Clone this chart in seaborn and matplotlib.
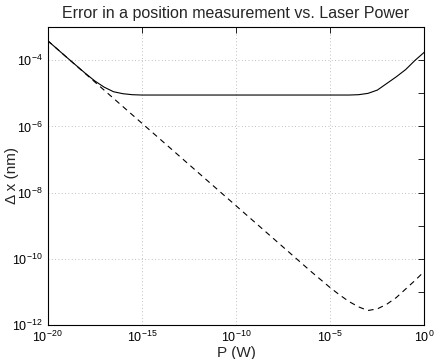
import numpy as np
import pandas as pd
import seaborn as sns
import matplotlib
matplotlib.use("Agg")
import matplotlib.pyplot as plt

# log10 of laser power (W) and log10 of position error (nm)
log_p_total = [-20, -19, -18, -17.5, -17, -16.5, -16, -15.5, -15, -14, -12, -10,
               -8, -6, -4, -3.5, -3, -2.5, -2, -1.5, -1, -0.5, 0]
log_dx_total = [-3.40, -3.90, -4.39, -4.62, -4.81, -4.95, -5.01, -5.04, -5.05, -5.05,
                -5.05, -5.05, -5.05, -5.05, -5.05, -5.04, -5.00, -4.90, -4.70, -4.50,
                -4.28, -4.00, -3.75]

log_p_shot = [-20, -18, -16, -14, -12, -10, -8, -6, -5, -4.5, -4, -3.5, -3,
              -2.5, -2, -1.5, -1, -0.5, 0]
log_dx_shot = [-3.40, -4.40, -5.40, -6.40, -7.40, -8.40, -9.40, -10.40, -10.88,
               -11.10, -11.30, -11.46, -11.57, -11.52, -11.38, -11.18, -10.92,
               -10.66, -10.38]

total = pd.DataFrame({"P": np.power(10.0, log_p_total), "dx": np.power(10.0, log_dx_total)})
shot = pd.DataFrame({"P": np.power(10.0, log_p_shot), "dx": np.power(10.0, log_dx_shot)})

sns.set_style("white")
plt.rcParams['font.family'] = ['Liberation Sans', 'DejaVu Sans']
plt.rcParams['mathtext.fontset'] = 'custom'
plt.rcParams['mathtext.rm'] = 'Liberation Sans'
plt.rcParams['mathtext.it'] = 'Liberation Sans:italic'

fig = plt.figure(figsize=(4.36, 3.59), dpi=100)
ax = fig.add_axes([0.109, 0.0955, 0.8646, 0.8285])

sns.lineplot(data=total, x="P", y="dx", ax=ax, color="black", linewidth=0.8)
sns.lineplot(data=shot, x="P", y="dx", ax=ax, color="black", linewidth=0.8,
             linestyle=(0, (5, 4)))

ax.set_xscale("log")
ax.set_yscale("log")
ax.set_xlim(1e-20, 1)
ax.set_ylim(1e-12, 1e-3)

xt = [1e-20, 1e-15, 1e-10, 1e-5, 1]
ax.set_xticks(xt)
ax.set_xticklabels(["$10^{-20}$", "$10^{-15}$", "$10^{-10}$", "$10^{-5}$", "$10^{0}$"])
ax.xaxis.set_minor_locator(matplotlib.ticker.NullLocator())

ax.set_yticks([10.0 ** e for e in range(-12, -3, 2)])
ax.set_yticklabels(["$10^{%d}$" % e for e in range(-12, -3, 2)])
ax.set_yticks([10.0 ** e for e in range(-11, -3, 2)], minor=True)
ax.set_yticklabels([], minor=True)

ax.tick_params(which="both", direction="in", length=4, width=0.6, top=True, right=True,
               labelsize=9, colors="black")
ax.grid(True, which="major", linestyle=(0, (1, 3)), color="#aaaaaa", linewidth=0.6)
for s in ax.spines.values():
    s.set_color("black")
    s.set_linewidth(0.8)

ax.set_title("Error in a position measurement vs. Laser Power", fontsize=11.5, pad=7)
ax.set_xlabel("P (W)", fontsize=11, labelpad=1)
ax.set_ylabel("Δ x (nm)", fontsize=11)
ax.yaxis.set_label_coords(-0.075, 0.5)

fig.savefig("out.png", dpi=100)
